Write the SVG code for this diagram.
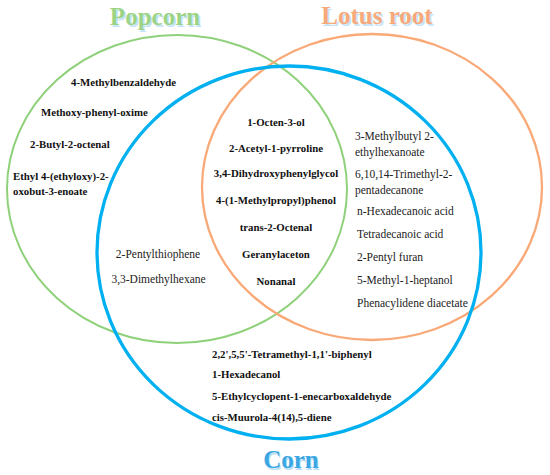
<svg xmlns="http://www.w3.org/2000/svg" width="550" height="475" viewBox="0 0 550 475">
<style>
.b{font-family:"Liberation Serif","Times New Roman",serif;font-weight:bold;font-size:10.8px;fill:#111}
.r{font-family:"Liberation Serif","Times New Roman",serif;font-size:11.5px;fill:#222}
.t{font-family:"Liberation Serif","Times New Roman",serif;font-weight:bold;font-size:25px;text-anchor:middle}
.c{text-anchor:middle}
</style>
<rect width="550" height="475" fill="#fff"/>
<g id="connectors"></g>
<g id="popcorn">
<ellipse cx="177" cy="189" rx="170" ry="154" fill="none" stroke="#8fd17a" stroke-width="2"/>
<text class="t" x="156.5" y="26.5" fill="#c5e4f7">Popcorn</text>
<text class="t" x="155" y="25" fill="#9cd486">Popcorn</text>
</g>
<g id="lotus">
<ellipse cx="372" cy="187" rx="170" ry="153" fill="none" stroke="#f9a977" stroke-width="2.3"/>
<text class="t" x="378.5" y="25.5" fill="#c5e4f7">Lotus root</text>
<text class="t" x="377" y="24" fill="#f6a97a">Lotus root</text>
</g>
<g id="corn">
<ellipse cx="289" cy="252.5" rx="192" ry="186.5" fill="none" stroke="#00b0f0" stroke-width="3.3"/>
<text class="t" x="292" y="469.5" fill="#b9def5" font-size="26">Corn</text>
<text class="t" x="291" y="468" fill="#3ba7e2" font-size="26">Corn</text>
</g>
<g id="popcorn-only">
<text class="b" x="71" y="86">4-Methylbenzaldehyde</text>
<text class="b" x="41" y="116">Methoxy-phenyl-oxime</text>
<text class="b" x="30" y="148">2-Butyl-2-octenal</text>
<text class="b" x="13" y="180">Ethyl 4-(ethyloxy)-2-</text>
<text class="b" x="13" y="195">oxobut-3-enoate</text>
</g>
<g id="all-three">
<text class="b c" x="276" y="126">1-Octen-3-ol</text>
<text class="b c" x="276" y="152">2-Acetyl-1-pyrroline</text>
<text class="b c" x="276" y="177">3,4-Dihydroxyphenylglycol</text>
<text class="b c" x="276" y="204">4-(1-Methylpropyl)phenol</text>
<text class="b c" x="276" y="231">trans-2-Octenal</text>
<text class="b c" x="276" y="258">Geranylaceton</text>
<text class="b c" x="276" y="285">Nonanal</text>
</g>
<g id="lotus-corn">
<text class="r" x="355" y="140">3-Methylbutyl 2-</text>
<text class="r" x="355" y="156">ethylhexanoate</text>
<text class="r" x="355" y="178">6,10,14-Trimethyl-2-</text>
<text class="r" x="355" y="194">pentadecanone</text>
<text class="r" x="357" y="215">n-Hexadecanoic acid</text>
<text class="r" x="357" y="238">Tetradecanoic acid</text>
<text class="r" x="357" y="261">2-Pentyl furan</text>
<text class="r" x="357" y="284">5-Methyl-1-heptanol</text>
<text class="r" x="357" y="307">Phenacylidene diacetate</text>
</g>
<g id="popcorn-corn">
<text class="r c" x="158" y="258">2-Pentylthiophene</text>
<text class="r c" x="158.5" y="283">3,3-Dimethylhexane</text>
</g>
<g id="corn-only">
<text class="b" x="212" y="358">2,2',5,5'-Tetramethyl-1,1'-biphenyl</text>
<text class="b" x="212" y="378">1-Hexadecanol</text>
<text class="b" x="212" y="400">5-Ethylcyclopent-1-enecarboxaldehyde</text>
<text class="b" x="212" y="421">cis-Muurola-4(14),5-diene</text>
</g>
</svg>
